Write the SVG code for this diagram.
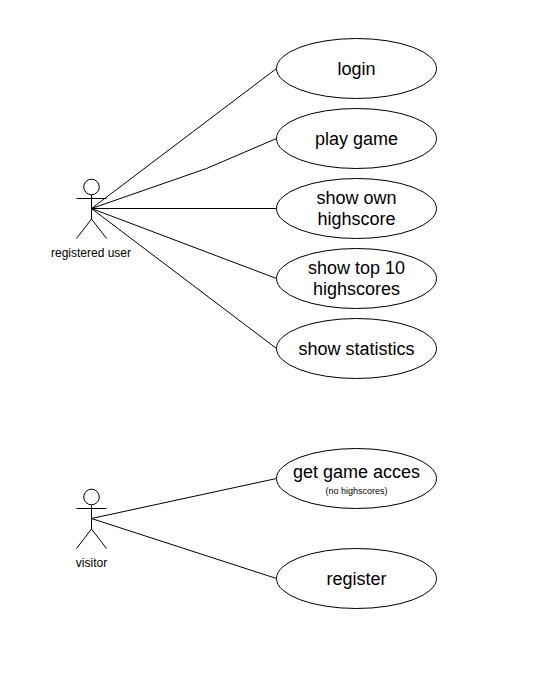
<svg xmlns="http://www.w3.org/2000/svg" width="539" height="678" viewBox="0 0 539 678">
<style>
.s{fill:none;stroke:#000;stroke-width:1}
.e{fill:#fff;stroke:#000;stroke-width:1}
text{font-family:"Liberation Sans",Arial,sans-serif;fill:#000;text-anchor:middle}
.t{font-size:18px}
.a{font-size:12px}
.n{font-size:9px}
</style>
<rect width="539" height="678" fill="#fff"/>
<g id="connectors" class="s">
<path d="M91.500 208.500L276.500 68.500"/>
<path d="M91.500 208.500L206.500 168.500L276.500 138.500"/>
<path d="M91.500 208.500H276.500"/>
<path d="M91.500 208.500L276.500 278.500"/>
<path d="M91.500 208.500L276.500 348.500"/>
<path d="M91.500 518.500L276.500 478.500"/>
<path d="M91.500 518.500L276.500 578.500"/>
</g>
<g id="actor-registered-user">
<circle class="s" cx="91.500" cy="187" r="7.800"/>
<path class="s" d="M91.500 195V219M76.500 198.500H106.500M76.500 238.500L91.500 219L106.500 238.500"/>
<text class="a" x="91" y="257">registered user</text>
</g>
<g id="actor-visitor">
<circle class="s" cx="91.500" cy="497" r="7.800"/>
<path class="s" d="M91.500 505V529M76.500 508.500H106.500M76.500 548.500L91.500 529L106.500 548.500"/>
<text class="a" x="91.500" y="567">visitor</text>
</g>
<g id="uc-login"><ellipse class="e" cx="356.500" cy="68.500" rx="80" ry="30"/><text class="t" x="356.500" y="74.500">login</text></g>
<g id="uc-play-game"><ellipse class="e" cx="356.500" cy="138.500" rx="80" ry="30"/><text class="t" x="356.500" y="144.500">play game</text></g>
<g id="uc-show-own"><ellipse class="e" cx="356.500" cy="208.500" rx="80" ry="30"/><text class="t" x="356.500" y="204">show own</text><text class="t" x="356.500" y="225">highscore</text></g>
<g id="uc-show-top"><ellipse class="e" cx="356.500" cy="278.500" rx="80" ry="30"/><text class="t" x="356.500" y="274">show top 10</text><text class="t" x="356.500" y="295">highscores</text></g>
<g id="uc-statistics"><ellipse class="e" cx="356.500" cy="348.500" rx="80" ry="30"/><text class="t" x="356.500" y="354.500">show statistics</text></g>
<g id="uc-get-game"><ellipse class="e" cx="356.500" cy="478.500" rx="80" ry="30"/><text class="t" x="356.500" y="478">get game acces</text><text class="n" x="356.500" y="494">(no highscores)</text></g>
<g id="uc-register"><ellipse class="e" cx="356.500" cy="578.500" rx="80" ry="30"/><text class="t" x="356.500" y="584.500">register</text></g>
</svg>
